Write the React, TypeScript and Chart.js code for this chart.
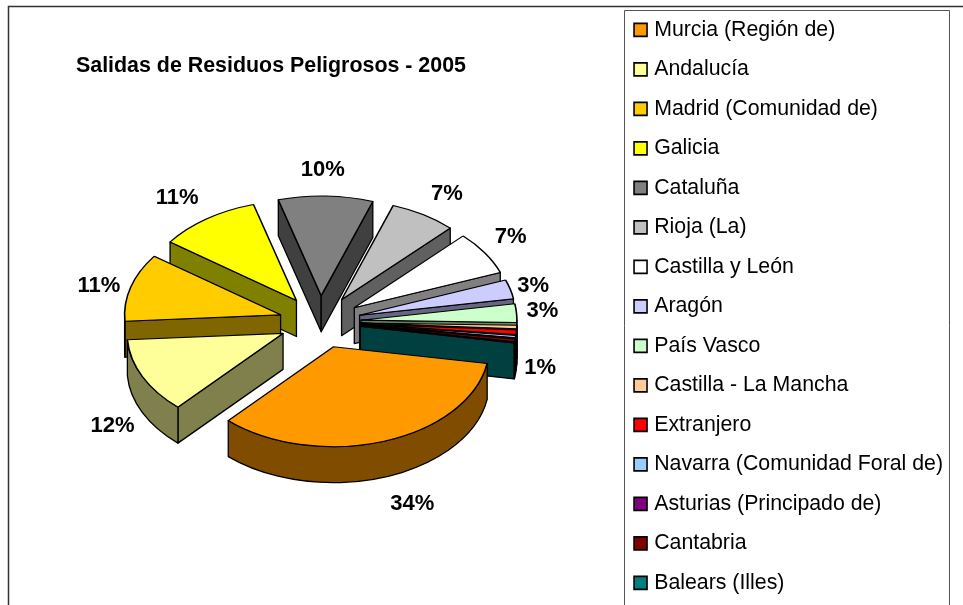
import React, { useEffect, useRef } from "react";
import { Chart, registerables } from "chart.js";

Chart.register(...registerables);

const regions = [
  "Murcia (Región de)", "Andalucía", "Madrid (Comunidad de)", "Galicia", "Cataluña",
  "Rioja (La)", "Castilla y León", "Aragón", "País Vasco", "Castilla - La Mancha",
  "Extranjero", "Navarra (Comunidad Foral de)", "Asturias (Principado de)", "Cantabria", "Balears (Illes)",
];
const shares = [34.1, 12.2, 11.0, 10.6, 9.8, 6.9, 7.0, 3.1, 3.0, 0.55, 0.75, 0.35, 0.1, 0.45, 0.1];
const faceColors = [
  "#FF9900", "#FFFF99", "#FFCC00", "#FFFF00", "#808080",
  "#C0C0C0", "#FFFFFF", "#CCCCFF", "#CCFFCC", "#FFCC99",
  "#FF0000", "#99CCFF", "#800080", "#800000", "#008080",
];
const chartTitle = "Salidas de Residuos Peligrosos - 2005";

// small manual adjustments of the percentage labels (dx, dy), one per labelled slice
const labelShiftX: Record<number, number> = { 0: 18, 1: -2, 2: -2, 3: -12, 4: -4, 5: 7, 6: 0, 7: -7, 8: -5, 10: -7 };
const labelShiftY: Record<number, number> = { 0: -1, 1: 1, 2: 7, 3: 3, 4: 3, 5: 4, 6: 0, 7: 4, 8: 0, 10: 19 };
const LABEL_MIN_SHARE = 0.7;

const FONT = "'Liberation Sans', Arial, sans-serif";
const CANVAS_H = 640; // the wrapper clips to the 605px window; the legend needs the extra room to stay in one column
const CENTER_X = 320;
const CENTER_Y = 322;
const TILT = 0.64;
const DEPTH = 36;
const RADIUS = 156;
const EXPLODE = 41;
const LABEL_RX = 228;
const LABEL_RY = 155;

const halve = (hex: string) => {
  const n = parseInt(hex.slice(1), 16);
  const c = (v: number) => Math.round(v / 2).toString(16).padStart(2, "0");
  return `#${c((n >> 16) & 255)}${c((n >> 8) & 255)}${c(n & 255)}`;
};

const wall = (ctx: CanvasRenderingContext2D, pts: { x: number; y: number }[], color: string) => {
  ctx.beginPath();
  pts.forEach((p, i) => (i ? ctx.lineTo(p.x, p.y) : ctx.moveTo(p.x, p.y)));
  ctx.closePath();
  ctx.fillStyle = color;
  ctx.fill();
  ctx.stroke();
};

const drawSlice = (ctx: CanvasRenderingContext2D, arc: any, index: number) => {
  const { startAngle, endAngle, outerRadius: r } = arc;
  const mid = (startAngle + endAngle) / 2;
  const ax = CENTER_X + Math.cos(mid) * EXPLODE;
  const ay = CENTER_Y + Math.sin(mid) * EXPLODE * TILT;
  const color = halve(faceColors[index]);
  const edge = (a: number) => ({ x: ax + r * Math.cos(a), y: ay + r * TILT * Math.sin(a) });
  ctx.save();
  ctx.lineWidth = 1.3;
  ctx.strokeStyle = "#000";
  ctx.lineJoin = "round";
  const apex = { x: ax, y: ay };
  const down = (p: { x: number; y: number }) => ({ x: p.x, y: p.y + DEPTH });
  if (Math.sin(startAngle - Math.PI / 2) > 0) {
    const q = edge(startAngle);
    wall(ctx, [apex, q, down(q), down(apex)], color);
  }
  if (Math.sin(endAngle + Math.PI / 2) > 0) {
    const q = edge(endAngle);
    wall(ctx, [apex, q, down(q), down(apex)], color);
  }
  for (let n = -1; n <= 2; n++) {
    const a1 = Math.max(startAngle, 2 * Math.PI * n);
    const a2 = Math.min(endAngle, 2 * Math.PI * n + Math.PI);
    if (a2 > a1) {
      ctx.beginPath();
      ctx.ellipse(ax, ay, r, r * TILT, 0, a1, a2);
      ctx.ellipse(ax, ay + DEPTH, r, r * TILT, 0, a2, a1, true);
      ctx.closePath();
      ctx.fillStyle = color;
      ctx.fill();
      ctx.stroke();
    }
  }
  ctx.restore();
};

const framePlugin = {
  id: "frame",
  beforeDraw(chart: any) {
    const ctx = chart.ctx as CanvasRenderingContext2D;
    ctx.save();
    ctx.strokeStyle = "#333";
    ctx.lineWidth = 1.5;
    ctx.beginPath();
    ctx.moveTo(8.5, chart.height);
    ctx.lineTo(8.5, 6.5);
    ctx.lineTo(chart.width, 6.5);
    ctx.stroke();
    ctx.strokeStyle = "#555";
    ctx.lineWidth = 1;
    ctx.beginPath();
    ctx.moveTo(624.5, chart.height);
    ctx.lineTo(624.5, 10.5);
    ctx.lineTo(949.5, 10.5);
    ctx.lineTo(949.5, chart.height);
    ctx.stroke();
    ctx.restore();
  },
};

const piePlugin = {
  id: "pie3d",
  beforeDatasetDraw(chart: any, args: any) {
    const ctx = chart.ctx as CanvasRenderingContext2D;
    const arcs = args.meta.data as any[];
    const order = arcs
      .map((arc, i) => ({ arc, i, s: Math.sin((arc.startAngle + arc.endAngle) / 2) }))
      .sort((a, b) => a.s - b.s);
    for (const { arc, i } of order) {
      const mid = (arc.startAngle + arc.endAngle) / 2;
      drawSlice(ctx, arc, i);
      ctx.save();
      ctx.translate(CENTER_X, CENTER_Y);
      ctx.scale(1, TILT);
      ctx.translate(Math.cos(mid) * EXPLODE - arc.x, Math.sin(mid) * EXPLODE - arc.y);
      arc.draw(ctx);
      ctx.restore();
    }
    ctx.save();
    ctx.font = `bold 22px ${FONT}`;
    ctx.fillStyle = "#000";
    ctx.textAlign = "center";
    ctx.textBaseline = "middle";
    arcs.forEach((arc, i) => {
      if (shares[i] < LABEL_MIN_SHARE) return;
      const mid = (arc.startAngle + arc.endAngle) / 2;
      const s = Math.sin(mid);
      const drop = s > 0 ? DEPTH * Math.min(1, s * 5) : 0;
      ctx.fillText(
        `${Math.round(shares[i])}%`,
        CENTER_X + Math.cos(mid) * LABEL_RX + (labelShiftX[i] ?? 0),
        CENTER_Y + s * LABEL_RY + drop + (labelShiftY[i] ?? 0),
      );
    });
    ctx.restore();
    return false;
  },
};

export default function App() {
  const ref = useRef<HTMLCanvasElement>(null);
  useEffect(() => {
    const chart = new Chart(ref.current!, {
      type: "pie",
      data: {
        labels: regions,
        datasets: [
          {
            data: shares,
            backgroundColor: faceColors,
            borderColor: "#000",
            borderWidth: 1.6,
            radius: RADIUS,
          } as any,
        ],
      },
      options: {
        responsive: false,
        animation: false,
        rotation: 99.6,
        layout: { padding: { left: 76, right: 10, top: 1, bottom: 0 } },
        plugins: {
          tooltip: { enabled: false },
          title: {
            display: true,
            text: chartTitle,
            align: "start",
            fullSize: false,
            color: "#000",
            font: { family: FONT, size: 21.4, weight: "bold" },
            padding: { top: 52, bottom: 0 },
          },
          legend: {
            position: "right",
            align: "start",
            labels: {
              usePointStyle: true,
              pointStyle: "rect",
              boxWidth: 6,
              boxHeight: 13,
              padding: 18.2,
              color: "#000",
              font: { family: FONT, size: 21.3 },
            },
          },
        },
      },
      plugins: [framePlugin, piePlugin],
    } as any);
    return () => chart.destroy();
  }, []);
  return (
    <div style={{ position: "fixed", left: 0, top: 0, width: 963, height: 605, overflow: "hidden", background: "#fff" }}>
      <canvas ref={ref} width={963} height={CANVAS_H} style={{ display: "block" }} />
    </div>
  );
}
